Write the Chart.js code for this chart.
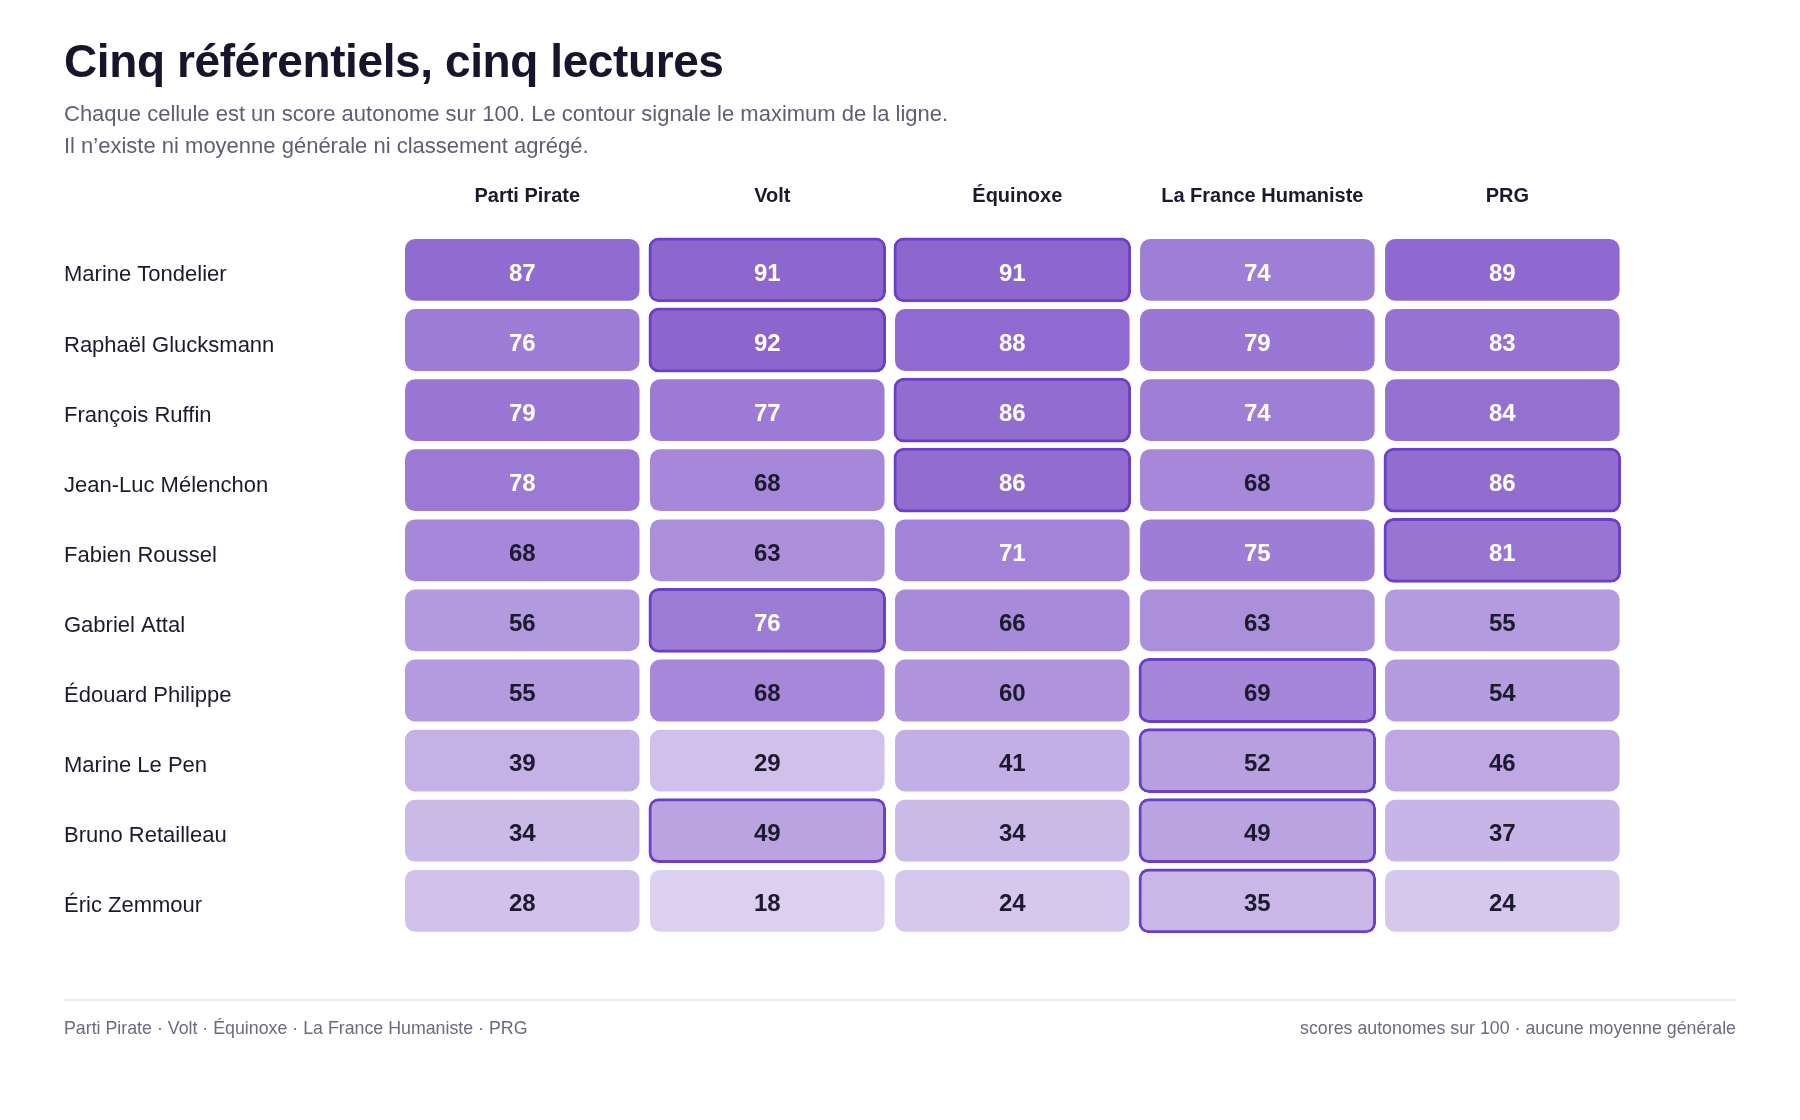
<!DOCTYPE html>
<html lang="fr">
<head>
<meta charset="utf-8">
<title>Cinq référentiels, cinq lectures</title>
<script src="https://cdn.jsdelivr.net/npm/chart.js@4.4.1/dist/chart.umd.min.js"></script>
<style>
  html, body { margin: 0; padding: 0; background: #ffffff; }
  body { width: 1800px; height: 1120px; overflow: hidden; position: relative;
         font-family: "Liberation Sans", Arial, Helvetica, sans-serif; }
  #chart { position: absolute; left: 0; top: 0; }
  .title { position: absolute; left: 64px; top: 38px; margin: 0;
           font-size: 46px; line-height: 46px; font-weight: 700; letter-spacing: -0.4px; color: #16152b; }
  .subtitle { position: absolute; left: 64px; top: 98px; margin: 0;
              font-size: 22px; line-height: 32px; color: #5f5e74; }
  .rule { position: absolute; left: 64px; width: 1672px; top: 999px; height: 2px; background: #ebeaf1; }
  .foot { position: absolute; top: 1019px; font-size: 17.8px; line-height: 18px; color: #6b6a80; }
  .foot.left { left: 64px; }
  .foot.right { right: 64px; text-align: right; }
</style>
</head>
<body>
<canvas id="chart" width="1800" height="1120"></canvas>
<h1 class="title">Cinq référentiels, cinq lectures</h1>
<p class="subtitle">Chaque cellule est un score autonome sur 100. Le contour signale le maximum de la ligne.<br>Il n’existe ni moyenne générale ni classement agrégé.</p>
<div class="rule"></div>
<div class="foot left">Parti Pirate · Volt · Équinoxe · La France Humaniste · PRG</div>
<div class="foot right">scores autonomes sur 100 · aucune moyenne générale</div>
<script>
// ---- data ----
const columns = ['Parti Pirate', 'Volt', 'Équinoxe', 'La France Humaniste', 'PRG'];
const candidates = ['Marine Tondelier', 'Raphaël Glucksmann', 'François Ruffin', 'Jean-Luc Mélenchon',
  'Fabien Roussel', 'Gabriel Attal', 'Édouard Philippe', 'Marine Le Pen', 'Bruno Retailleau', 'Éric Zemmour'];
const partiPirate = [87, 76, 79, 78, 68, 56, 55, 39, 34, 28];
const volt        = [91, 92, 77, 68, 63, 76, 68, 29, 49, 18];
const equinoxe    = [91, 88, 86, 86, 71, 66, 60, 41, 34, 24];
const franceHum   = [74, 79, 74, 68, 75, 63, 69, 52, 49, 35];
const prg         = [89, 83, 84, 86, 81, 55, 54, 46, 37, 24];
const series = [partiPirate, volt, equinoxe, franceHum, prg];

// ---- styling helpers ----
const FONT = '"Liberation Sans", Arial, Helvetica, sans-serif';
const INK = '#1b1a2e';
const LOW = [240, 234, 248], HIGH = [131, 89, 202];
function cellColor(v) {
  const t = v / 100;
  const c = LOW.map((l, k) => Math.round(l + (HIGH[k] - l) * t));
  return `rgb(${c[0]},${c[1]},${c[2]})`;
}
const rowMax = candidates.map((_, r) => Math.max(...series.map(s => s[r])));
const isMax = (c, r) => series[c][r] === rowMax[r];
const GAP_X = 0.0214; // half horizontal gap, in column units

const datasets = series.map((vals, c) => ({
  label: columns[c],
  scores: vals,
  data: vals.map(() => [c + GAP_X, c + 1 - GAP_X]),
  grouped: false,
  backgroundColor: ctx => cellColor(vals[ctx.dataIndex]),
  borderColor: '#6c3fc8',
  borderWidth: ctx => isMax(c, ctx.dataIndex) ? 3 : 0,
  inflateAmount: ctx => isMax(c, ctx.dataIndex) ? 1.5 : 0,
  borderRadius: 10,
  borderSkipped: false,
  barPercentage: 0.881,
  categoryPercentage: 1
}));

const valueLabels = {
  id: 'valueLabels',
  afterDatasetsDraw(chart) {
    const ctx = chart.ctx;
    ctx.save();
    ctx.font = `bold 24px ${FONT}`;
    ctx.textAlign = 'center';
    ctx.textBaseline = 'middle';
    chart.data.datasets.forEach((ds, di) => {
      chart.getDatasetMeta(di).data.forEach((el, i) => {
        const v = ds.scores[i];
        const p = el.getCenterPoint();
        ctx.fillStyle = v >= 70 ? '#ffffff' : INK;
        ctx.fillText(String(v), p.x, p.y + 4);
      });
    });
    ctx.restore();
  }
};

new Chart(document.getElementById('chart'), {
  type: 'bar',
  data: { labels: candidates, datasets },
  plugins: [valueLabels],
  options: {
    indexAxis: 'y',
    responsive: false,
    animation: false,
    events: [],
    layout: { padding: { left: 64, top: 182.85, right: 175.15, bottom: 184.15 } },
    plugins: { legend: { display: false }, tooltip: { enabled: false }, title: { display: false } },
    scales: {
      y: {
        type: 'category',
        position: 'left',
        offset: true,
        grid: { display: false, drawTicks: false },
        border: { display: false },
        ticks: { crossAlign: 'far', padding: 0, labelOffset: 5.5, color: INK,
                 font: { family: FONT, size: 22 } },
        afterFit: s => { s.width = 335.75; }
      },
      x: {
        type: 'linear',
        position: 'top',
        min: 0, max: 5,
        grid: { display: false, drawTicks: false },
        border: { display: false },
        afterBuildTicks: s => { s.ticks = columns.map((_, i) => ({ value: i + 0.5 })); },
        ticks: { padding: 26, labelOffset: 5, color: INK, maxRotation: 0, autoSkip: false,
                 font: { family: FONT, size: 20, weight: 'bold' },
                 callback: (v, i) => columns[i] },
        afterFit: s => { s.height = 52; }
      }
    }
  }
});
</script>
</body>
</html>
